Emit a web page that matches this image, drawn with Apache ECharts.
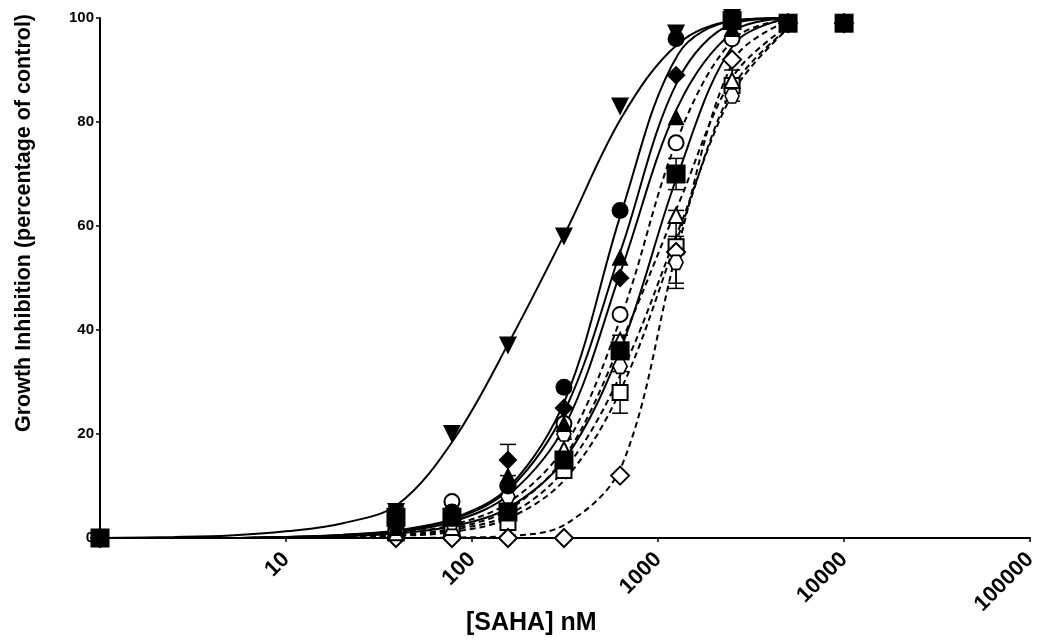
<!DOCTYPE html>
<html>
<head>
<meta charset="utf-8">
<script src="https://cdn.jsdelivr.net/npm/echarts@6/dist/echarts.min.js"></script>
<style>html,body{margin:0;padding:0;background:#fff}#c{width:1040px;height:644px}</style>
</head>
<body>
<div id="c"></div>
<script>
// Concentrations of the measured points (nM); 1 = untreated control
const doses = [1, 39, 78, 156, 312, 625, 1250, 2500, 5000, 10000];
// Measured growth inhibition (%)
const sTriDown  = [0, 5, 20, 37, 58, 83, 97, 100, 99, 99];
const sCircle   = [0, 3, 5, 10, 29, 63, 96, 100, 99, 99];
const sDiamond  = [0, 3, 4, 15, 25, 50, 89, 99, 99, 99];
const sTriUp    = [0, 2, 4, 12, 22, 54, 81, 98, 99, 99];
const sSquare   = [0, 4, 4, 5, 15, 36, 70, 99.5, 99, 99];
const oCircle   = [0, 3, 7, 10, 22, 43, 76, 96, 99, 99];
const oSquare   = [0, 1, 2, 3, 13, 28, 56, 87, 99, 99];
const oDiamond  = [0, 0, 0, 0, 0, 12, 55, 92, 99, 99];
const oTriangle = [0, 1, 2, 6, 17, 38, 62, 88, 99, 99];
const oHexagon  = [0, 2, 3, 8, 20, 33, 53, 85, 99, 99];

// Fitted curves at these concentrations
const curveX = [1, 2.5, 5, 10, 20, 40, 80, 160, 320, 640, 1280, 2560, 5000];
const cTriDown  = [0, 0.2, 0.5, 1.3, 2.8, 6.5, 19, 38, 59, 81, 95, 99.5, 100];
const cCircle   = [0, 0, 0, 0.2, 0.6, 1.5, 3.8, 10, 27, 63, 93, 99.5, 100];
const cDiamond  = [0, 0, 0, 0.2, 0.6, 1.4, 3.6, 9.5, 25, 56, 88, 99, 100];
const cTriUp    = [0, 0, 0, 0.2, 0.5, 1.2, 3.2, 8.5, 22, 52, 83, 97.5, 100];
const cSquare   = [0, 0, 0, 0.1, 0.3, 0.9, 2.3, 6, 15.5, 37, 70, 95, 100];
const cOCircle  = [0, 0, 0, 0.1, 0.3, 1, 2.6, 7, 18, 43, 77, 96, 99.8];
const cOSquare  = [0, 0, 0, 0, 0.1, 0.4, 1.2, 3.9, 11.5, 29, 58, 87, 98];
const cODiamond = [0, 0, 0, 0, 0, 0, 0.1, 0.4, 2.7, 14, 56, 92, 99.5];
const cOTri     = [0, 0, 0, 0.1, 0.2, 0.6, 1.9, 5.6, 16, 38, 64, 89, 98.5];
const cOHex     = [0, 0, 0, 0, 0.1, 0.5, 1.6, 4.6, 13.5, 32, 59, 86, 98];

// Visible error bars: [dose, value, error]
const errorBars = [[156, 15, 3], [625, 28, 4], [1250, 56, 7], [1250, 53, 5], [2500, 87, 3], [625, 36, 3], [312, 22, 3], [1250, 70, 3], [39, 4, 2]];

const xTicks = ['10', '100', '1000', '10000', '100000'];
const yTicks = [0, 20, 40, 60, 80, 100];

const hexPath = 'path://M5,0 L15,0 L20,8.66 L15,17.32 L5,17.32 L0,8.66 Z';

const defs = [
  {pts: oCircle,   curve: cOCircle,  symbol: 'emptyCircle',   size: 15, dashed: true},
  {pts: oSquare,   curve: cOSquare,  symbol: 'emptyRect',     size: 15, dashed: true},
  {pts: oDiamond,  curve: cODiamond, symbol: 'emptyDiamond',  size: 18, dashed: true},
  {pts: oTriangle, curve: cOTri,     symbol: 'emptyTriangle', size: 15, dashed: true},
  {pts: oHexagon,  curve: cOHex,     symbol: hexPath,         size: 14, dashed: true, hollow: true},
  {pts: sTriDown,  curve: cTriDown,  symbol: 'triangle',      size: 18, rotate: 180},
  {pts: sCircle,   curve: cCircle,   symbol: 'circle',        size: 17},
  {pts: sDiamond,  curve: cDiamond,  symbol: 'diamond',       size: 19},
  {pts: sTriUp,    curve: cTriUp,    symbol: 'triangle',      size: 17},
  {pts: sSquare,   curve: cSquare,   symbol: 'rect',          size: 19}
];

const series = [];
defs.forEach(function (d) {
  series.push({
    type: 'line', smooth: 0.35, showSymbol: false, silent: true, z: 2,
    data: curveX.map(function (x, k) { return [x, d.curve[k]]; }),
    lineStyle: {color: '#000', width: 2, type: d.dashed ? [6, 4] : 'solid'}
  });
});
series.push({
  type: 'custom', z: 3, silent: true,
  data: errorBars,
  renderItem: function (params, api) {
    const p = api.coord([api.value(0), api.value(1)]);
    const top = api.coord([api.value(0), api.value(1) + api.value(2)]);
    const bot = api.coord([api.value(0), api.value(1) - api.value(2)]);
    const w = 8;
    const st = {stroke: '#000', lineWidth: 1.5};
    return {type: 'group', children: [
      {type: 'line', shape: {x1: p[0], y1: top[1], x2: p[0], y2: bot[1]}, style: st},
      {type: 'line', shape: {x1: p[0] - w, y1: top[1], x2: p[0] + w, y2: top[1]}, style: st},
      {type: 'line', shape: {x1: p[0] - w, y1: bot[1], x2: p[0] + w, y2: bot[1]}, style: st}
    ]};
  }
});
defs.forEach(function (d, i) {
  const filled = !d.dashed;
  series.push({
    type: 'scatter', z: filled ? 5 + i : 4, silent: true,
    symbol: d.symbol, symbolSize: d.size, symbolRotate: d.rotate || 0,
    data: doses.map(function (x, k) { return [x, d.pts[k]]; }),
    itemStyle: d.hollow ? {color: '#fff', borderColor: '#000', borderWidth: 1.6, opacity: 1}
             : filled ? {color: '#000', opacity: 1} : {color: '#000', borderWidth: 1.6, opacity: 1}
  });
});

const font = 'Liberation Sans, Arial, sans-serif';
const chart = echarts.init(document.getElementById('c'));
chart.setOption({
  animation: false,
  backgroundColor: '#fff',
  grid: {left: 100, right: 8, top: 18, bottom: 106, containLabel: false},
  graphic: [
    {type: 'text', left: 466, top: 611, silent: true,
     style: {text: '[SAHA] nM', font: 'bold 25px ' + font, fill: '#000'}},
    {type: 'text', x: 24, y: 223, rotation: Math.PI / 2, silent: true,
     style: {text: 'Growth Inhibition (percentage of control)', font: 'bold 21.5px ' + font, fill: '#000',
             align: 'center', verticalAlign: 'middle'}}
  ],
  xAxis: {
    type: 'log', logBase: 10, min: 1, max: 100000,
    axisLine: {lineStyle: {color: '#000', width: 2}},
    axisTick: {show: true, length: 4, lineStyle: {color: '#000', width: 1.5}},
    minorTick: {show: false},
    splitLine: {show: false},
    axisLabel: {
      rotate: 45, margin: 18, color: '#000', fontFamily: font, fontWeight: 'bold', fontSize: 22,
      formatter: function (v) { const s = String(Math.round(v)); return xTicks.indexOf(s) >= 0 ? s : ''; }
    }
  },
  yAxis: {
    type: 'value', min: 0, max: 100, interval: 20,
    axisLine: {show: true, lineStyle: {color: '#000', width: 2}},
    axisTick: {show: true, length: 4, lineStyle: {color: '#000', width: 1.5}},
    splitLine: {show: false},
    axisLabel: {
      margin: 6, color: '#000', fontFamily: font, fontWeight: 'bold', fontSize: 15,
      formatter: function (v) { return yTicks.indexOf(v) >= 0 ? String(v) : ''; }
    }
  },
  series: series
});
</script>
</body>
</html>
